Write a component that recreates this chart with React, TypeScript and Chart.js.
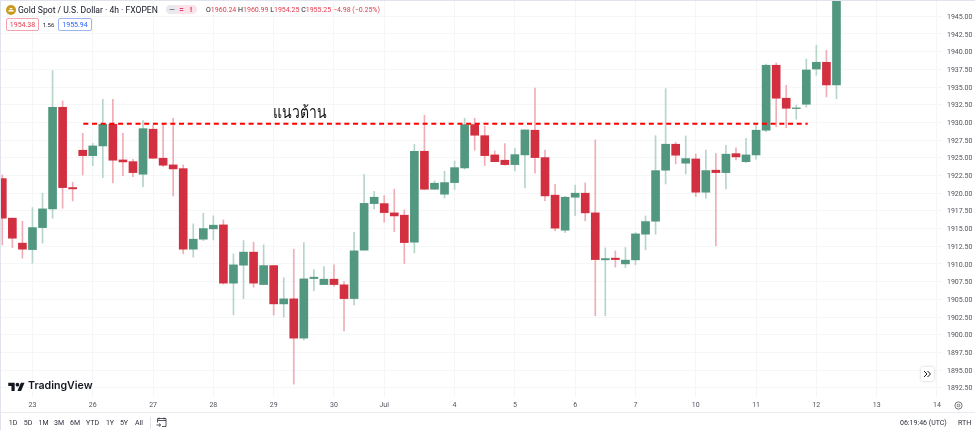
import React, { useEffect, useRef } from "react";
import { Chart, registerables } from "chart.js";

Chart.register(...registerables);

const opens = [1922.06,1916.47,1912.94,1912.03,1915.14,1917.78,1932.14,1920.79,1926.07,1925.31,1926.68,1929.74,1924.70,1924.46,1922.68,1929.04,1924.94,1924.00,1923.47,1912.09,1913.50,1914.96,1915.52,1907.29,1909.83,1911.67,1907.09,1909.77,1904.36,1905.07,1899.52,1907.94,1907.09,1907.85,1907.05,1905.11,1911.95,1918.53,1918.53,1917.22,1916.89,1913.08,1925.93,1920.56,1919.86,1921.50,1923.57,1929.69,1928.13,1925.41,1924.66,1924.04,1925.41,1928.90,1925.03,1919.72,1914.77,1919.43,1920.00,1917.22,1910.58,1910.82,1910.01,1910.58,1914.21,1916.04,1923.25,1926.92,1924.24,1924.84,1920.14,1923.25,1922.91,1925.59,1924.46,1925.41,1928.90,1938.08,1933.42,1931.96,1932.57,1937.55,1938.50,1935.30];
const highs = [1922.58,1916.51,1916.04,1917.96,1920.00,1937.31,1933.03,1921.55,1928.47,1927.06,1933.27,1933.27,1928.47,1924.80,1930.25,1929.64,1929.79,1930.59,1924.00,1915.66,1917.17,1916.79,1916.23,1911.43,1913.30,1913.08,1912.70,1909.77,1908.04,1912.09,1913.02,1909.17,1909.63,1909.87,1907.51,1914.46,1922.63,1920.28,1919.66,1920.56,1917.64,1926.92,1931.02,1921.74,1923.11,1924.56,1930.59,1930.59,1929.46,1925.97,1927.00,1926.35,1928.94,1934.87,1926.11,1921.27,1919.57,1921.13,1921.45,1927.53,1912.27,1911.85,1912.32,1914.43,1916.79,1928.13,1934.77,1927.20,1928.09,1925.55,1926.11,1925.59,1926.78,1926.40,1927.77,1929.64,1938.26,1938.40,1935.25,1932.47,1938.97,1940.90,1940.20,1960.99];
const lows = [1912.70,1912.32,1910.82,1910.11,1912.94,1916.47,1917.88,1918.91,1922.58,1923.90,1922.20,1921.45,1922.48,1922.34,1920.93,1924.94,1923.76,1919.62,1911.43,1910.96,1913.30,1913.40,1907.15,1902.81,1905.11,1906.72,1907.09,1902.77,1902.48,1893.02,1899.24,1906.24,1907.09,1906.81,1900.55,1904.22,1911.95,1917.78,1915.90,1914.57,1910.05,1911.57,1920.56,1920.56,1919.33,1920.51,1923.39,1926.07,1923.90,1924.46,1923.95,1923.15,1920.75,1922.82,1918.95,1914.72,1914.43,1916.84,1916.09,1902.67,1902.67,1909.55,1909.49,1909.87,1911.99,1914.21,1921.31,1924.14,1922.72,1919.52,1919.29,1912.60,1920.61,1924.70,1924.32,1924.80,1928.70,1929.40,1929.26,1930.45,1932.14,1936.66,1933.60,1933.36];
const closes = [1916.47,1913.64,1912.09,1915.14,1917.78,1932.14,1920.79,1920.61,1925.31,1926.68,1929.74,1924.66,1924.42,1922.91,1929.12,1924.94,1923.95,1923.43,1912.09,1913.50,1915.00,1915.48,1907.29,1909.87,1911.67,1907.29,1909.77,1904.36,1905.07,1899.52,1907.89,1908.13,1907.85,1907.09,1905.11,1911.85,1918.56,1919.43,1917.26,1916.79,1913.02,1925.93,1920.56,1921.41,1921.50,1923.61,1929.69,1928.19,1925.31,1924.46,1924.04,1925.45,1928.94,1925.03,1919.62,1915.06,1919.43,1920.00,1917.22,1910.62,1910.76,1910.62,1910.54,1914.25,1915.99,1923.19,1926.92,1925.37,1924.89,1920.14,1923.19,1922.91,1925.51,1925.13,1925.41,1928.90,1938.08,1933.42,1932.00,1932.05,1937.41,1938.50,1935.30,1955.25];

const dayTickBars = [3,9,15,21,27,33,38,45,51,57,63,69,75,81,87,93];
const dayTickLabels = ["23","26","27","28","29","30","Jul","4","5","6","7","10","11","12","13","14"];
const priceTicks = [1892.5,1895,1897.5,1900,1902.5,1905,1907.5,1910,1912.5,1915,1917.5,1920,1922.5,1925,1927.5,1930,1932.5,1935,1937.5,1940,1942.5,1945];
const resistancePrice = 1929.83;
const resistanceBars = [8.06, 80.14];
const rangeButtons = ["1D","5D","1M","3M","6M","YTD","1Y","5Y","All"];
const rangeButtonCentres = [13,28,43.5,59,75,92.5,110,124,139];

const UP = "#52977f";
const DOWN = "#d23040";
const UP_WICK = "#b5d5c9";
const DOWN_WICK = "#f0adb5";
const GRID = "#f5f6f8";
const FONT = "Roboto, sans-serif";

const isUp = (i: number) => closes[i] >= opens[i];

function T({ x, cy, size, color = "#131722", weight = 400, center, right, children, family = FONT, extra }: any) {
  return (
    <div
      style={{
        position: "absolute",
        left: right === undefined ? x : undefined,
        right: right,
        top: cy - 10,
        height: 20,
        lineHeight: "20px",
        fontSize: size,
        color,
        fontWeight: weight,
        fontFamily: family,
        whiteSpace: "nowrap",
        transform: center ? "translateX(-50%)" : undefined,
        ...extra,
      }}
    >
      {children}
    </div>
  );
}

function Box({ x, y, w, h, border, bg, radius = 2, extra }: any) {
  return (
    <div
      style={{
        position: "absolute",
        left: x,
        top: y,
        width: w,
        height: h,
        boxSizing: "border-box",
        border: border ? `1px solid ${border}` : undefined,
        background: bg,
        borderRadius: radius,
        ...extra,
      }}
    />
  );
}

export default function App() {
  const ref = useRef<HTMLCanvasElement | null>(null);

  useEffect(() => {
    if (!ref.current) return;
    const idx = opens.map((_, i) => i);
    const chart = new Chart(ref.current, {
      type: "bar",
      data: {
        datasets: [
          {
            type: "line",
            label: "Resistance",
            data: resistanceBars.map((x) => ({ x, y: resistancePrice })),
            borderColor: "#ff0000",
            borderWidth: 2,
            borderDash: [5, 3.7],
            pointRadius: 0,
            order: 0,
          },
          {
            label: "Body",
            data: idx.map((i) => ({ x: i, y: [opens[i], closes[i]] })),
            backgroundColor: idx.map((i) => (isUp(i) ? UP : DOWN)),
            barThickness: 8,
            borderWidth: 0,
            grouped: false,
            order: 1,
          },
          {
            label: "Wick",
            data: idx.map((i) => ({ x: i, y: [lows[i], highs[i]] })),
            backgroundColor: idx.map((i) => (isUp(i) ? UP_WICK : DOWN_WICK)),
            barThickness: 1,
            borderWidth: 0,
            grouped: false,
            order: 2,
          },
        ] as any,
      },
      options: {
        responsive: false,
        animation: false,
        layout: { autoPadding: false, padding: { top: 1, left: 0, right: 0, bottom: 0 } },
        plugins: { legend: { display: false }, tooltip: { enabled: false } },
        scales: {
          x: {
            type: "linear",
            offset: false,
            min: -0.23,
            max: 93.5,
            border: { display: false },
            grid: { offset: false, color: GRID, lineWidth: 1, drawTicks: false },
            afterBuildTicks: (s: any) => {
              s.ticks = dayTickBars.map((value) => ({ value }));
            },
            afterFit: (s: any) => {
              s.height = 33;
              s.paddingLeft = 0;
              s.paddingRight = 0;
            },
            ticks: {
              autoSkip: false,
              maxRotation: 0,
              padding: 4,
              color: "#50535e",
              font: { family: "Roboto", size: 7 },
              callback: (v: any) => dayTickLabels[dayTickBars.indexOf(Number(v))] ?? "",
            },
          },
          y: {
            position: "right",
            min: 1891.2,
            max: 1947.16,
            border: { display: false },
            grid: { color: GRID, lineWidth: 1, drawTicks: false },
            afterBuildTicks: (s: any) => {
              s.ticks = priceTicks.map((value) => ({ value }));
            },
            afterFit: (s: any) => {
              s.width = 33;
              s.paddingTop = 0;
              s.paddingBottom = 0;
            },
            ticks: {
              autoSkip: false,
              padding: 5,
              labelOffset: 0.8,
              color: "#50535e",
              font: { family: "Roboto", size: 7 },
              callback: (v: any) => Number(v).toFixed(2),
            },
          },
        },
      } as any,
    });
    return () => chart.destroy();
  }, []);

  const red = "#e0394a";
  return (
    <div style={{ position: "fixed", left: 0, top: 0, width: 975, height: 430, background: "#fff", overflow: "hidden" }}>
      <canvas ref={ref} width={975} height={430} style={{ position: "absolute", left: 0, top: 0, display: "block" }} />

      <Box x={0} y={0} w={975} h={1} bg="#e0e3eb" radius={0} />
      <Box x={0} y={0} w={1} h={430} bg="#e0e3eb" radius={0} />
      <Box x={0} y={412} w={975} h={1} bg="#e9ebf0" radius={0} />

      <svg style={{ position: "absolute", left: 6, top: 5 }} width={10} height={10} viewBox="0 0 10 10">
        <circle cx="5" cy="5" r="5" fill="#c89a20" />
        <path d="M2 6.5h6l-1-1.6H3zM3.3 4.2h3.4l-.6-1.2H3.9z" fill="#fff" />
      </svg>
      <T x={18} cy={10} size={8.6}>Gold Spot / U.S. Dollar · 4h · FXOPEN</T>

      <Box x={166} y={5} w={31} h={9} bg="#fbe3ea" radius={5} />
      <Box x={166} y={5} w={11} h={9} bg="#e8e9ee" radius={5} />
      <T x={172} cy={9.5} size={7} color="#6a6d78" weight={700} center>—</T>
      <T x={181.5} cy={9.5} size={8} color="#e0397a" weight={700} center>=</T>
      <T x={191} cy={9.5} size={8} color="#e0394a" weight={700} center>!</T>

      <T x={206} cy={10} size={7}>
        <span style={{ color: "#131722" }}>O</span><span style={{ color: red }}>1960.24 </span>
        <span style={{ color: "#131722" }}> H</span><span style={{ color: red }}>1960.99 </span>
        <span style={{ color: "#131722" }}> L</span><span style={{ color: red }}>1954.25 </span>
        <span style={{ color: "#131722" }}> C</span><span style={{ color: red }}>1955.25 −4.98 (−0.25%)</span>
      </T>

      <Box x={6} y={18} w={33} h={13} border="#f3a3ac" bg="#fff" radius={2} />
      <T x={22.5} cy={24.5} size={7} color={red} center>1954.38</T>
      <T x={48.5} cy={24.5} size={6} center>1.56</T>
      <Box x={58} y={18} w={34} h={13} border="#9db4f5" bg="#fff" radius={2} />
      <T x={75} cy={24.5} size={7} color="#2962ff" center>1955.94</T>

      <T x={273} cy={112} size={17} color="#111" family="'Noto Sans', 'DejaVu Sans', sans-serif" extra={{ transform: "scaleX(0.82)", transformOrigin: "left center" }}>แนวต้าน</T>

      <svg style={{ position: "absolute", left: 8, top: 381 }} width={17} height={11} viewBox="0 0 36 24">
        <path d="M14 22H7V11H0V4h14v18zM28 22h-8l7.5-18h8L28 22z" fill="#131722" />
        <circle cx="20" cy="8" r="4" fill="#131722" />
      </svg>
      <T x={28} cy={386} size={10.6} weight={600} family="Inter, Roboto, sans-serif">TradingView</T>

      {rangeButtons.map((b, i) => (
        <T key={b} x={rangeButtonCentres[i]} cy={423} size={7} color="#2a2e39" center>{b}</T>
      ))}
      <Box x={149.5} y={417} w={1} h={12} bg="#e0e3eb" radius={0} />
      <svg style={{ position: "absolute", left: 156, top: 417 }} width={11} height={11} viewBox="0 0 11 11" fill="none" stroke="#2a2e39" strokeWidth="0.8">
        <path d="M3 1.5h7v8H6M3 1.5H1.5v4M1.5 3.5H10M3 .5v2M8 .5v2M.5 8h4M3 6.5L4.7 8 3 9.5" />
      </svg>

      <T x={900} cy={423} size={7} color="#2a2e39">06:19:46 (UTC)</T>
      <T x={958} cy={423} size={7} color="#2a2e39">RTH</T>

      <svg style={{ position: "absolute", left: 954, top: 401 }} width={9} height={9} viewBox="0 0 9 9" fill="none" stroke="#50535e" strokeWidth="0.8">
        <circle cx="4.5" cy="4.5" r="3.6" />
        <circle cx="4.5" cy="4.5" r="1.3" />
      </svg>

      <Box x={921} y={367} w={13} h={14} bg="#fff" radius={2} extra={{ boxShadow: "0 0 3px rgba(0,0,0,.22)" }} />
      <svg style={{ position: "absolute", left: 923, top: 370 }} width={9} height={8} viewBox="0 0 9 8" fill="none" stroke="#131722" strokeWidth="1">
        <path d="M1 1l3 3-3 3M4.5 1l3 3-3 3" />
      </svg>
    </div>
  );
}
